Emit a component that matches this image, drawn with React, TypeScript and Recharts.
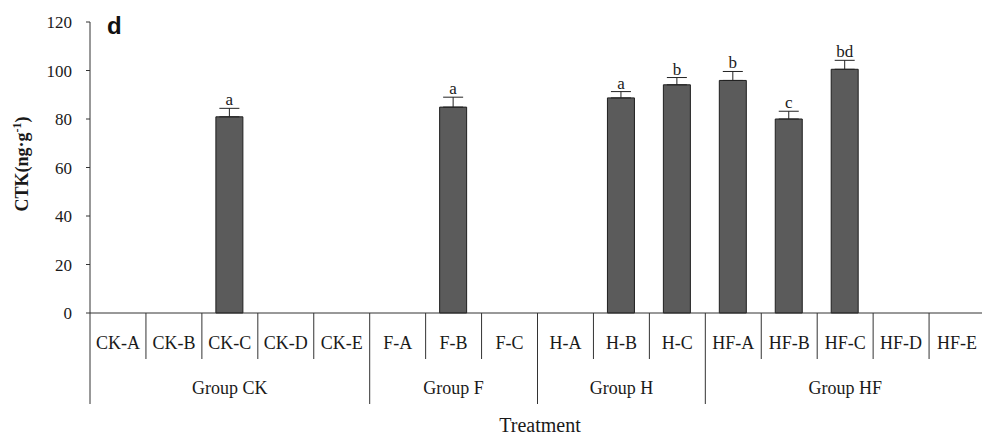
import { BarChart, Bar, XAxis, YAxis, ErrorBar, LabelList } from 'recharts'

const categories = ['CK-A', 'CK-B', 'CK-C', 'CK-D', 'CK-E', 'F-A', 'F-B', 'F-C', 'H-A', 'H-B', 'H-C', 'HF-A', 'HF-B', 'HF-C', 'HF-D', 'HF-E']
const values = [null, null, 80.9, null, null, null, 84.9, null, null, 88.7, 94.1, 95.9, 80, 100.5, null, null]
const errors = [null, null, 3.5, null, null, null, 4.1, null, null, 2.6, 3, 3.7, 3.2, 3.7, null, null]
const letters = ['', '', 'a', '', '', '', 'a', '', '', 'a', 'b', 'b', 'c', 'bd', '', '']
const groups = [
  { name: 'Group CK', start: 0, count: 5 },
  { name: 'Group F', start: 5, count: 3 },
  { name: 'Group H', start: 8, count: 3 },
  { name: 'Group HF', start: 11, count: 5 },
]
const yTicks = [0, 20, 40, 60, 80, 100, 120]

const data = categories.map((c, i) => ({
  name: c,
  value: values[i],
  err: errors[i] == null ? null : [0, errors[i]],
}))

const W = 982
const H = 438
const M = { top: 22, right: -3, bottom: 0, left: 0 }
const Y_W = 90
const BAND = (W - M.left - M.right - Y_W) / categories.length
const SERIF = 'Liberation Serif, Times New Roman, serif'

function CategoryTick(props: any) {
  const { x, y, payload, index } = props
  const left = x - BAND / 2
  const groupStart = groups.find((g) => g.start === index)
  const groupMid = groups.find((g) => g.start + (g.count - 1) / 2 === index)
  return (
    <g>
      <line x1={left} x2={left} y1={y} y2={groupStart ? y + 91 : y + 46} stroke="#333" strokeWidth={1} />
      <text x={x} y={y + 36} textAnchor="middle" style={{ fontFamily: SERIF, fontSize: 18 }} fill="#1a1a1a">
        {payload.value}
      </text>
      {groupMid && (
        <text x={x} y={y + 81} textAnchor="middle" style={{ fontFamily: SERIF, fontSize: 18 }} fill="#1a1a1a">
          {groupMid.name}
        </text>
      )}
    </g>
  )
}

function ValueTick(props: any) {
  const { x, y, payload } = props
  return (
    <text x={x} y={y} dy={6} textAnchor="end" style={{ fontFamily: SERIF, fontSize: 17 }} fill="#1a1a1a">
      {payload.value}
    </text>
  )
}

function LetterLabel(props: any) {
  const { x, width, y, height, value } = props
  const i = categories.indexOf(value)
  const e = errors[i]
  const v = values[i]
  if (i < 0 || !letters[i] || e == null || v == null) return null
  const errPx = (height / v) * e
  return (
    <text x={x + width / 2} y={y - errPx - 3} textAnchor="middle" style={{ fontFamily: SERIF, fontSize: 17 }} fill="#1a1a1a">
      {letters[i]}
    </text>
  )
}

export default function App() {
  return (
    <div style={{ position: 'absolute', left: 0, top: 0, width: W, height: H, background: '#fff' }}>
      <div
        style={{
          position: 'absolute',
          left: 107,
          top: 12,
          fontFamily: 'Liberation Sans, Arial, sans-serif',
          fontWeight: 'bold',
          fontSize: 24,
          color: '#111',
        }}
      >
        d
      </div>
      <BarChart width={W} height={H} data={data} margin={M}>
        <XAxis
          dataKey="name"
          interval={0}
          height={125}
          tickLine={false}
          tickSize={0}
          tickMargin={0}
          axisLine={{ stroke: '#333' }}
          tick={<CategoryTick />}
          label={{
            value: 'Treatment',
            content: () => (
              <text x={540} y={432} textAnchor="middle" style={{ fontFamily: SERIF, fontSize: 20 }} fill="#1a1a1a">
                Treatment
              </text>
            ),
          }}
        />
        <YAxis
          width={Y_W}
          domain={[0, 120]}
          ticks={yTicks}
          interval={0}
          tickSize={4}
          tickMargin={14}
          axisLine={{ stroke: '#333' }}
          tickLine={{ stroke: '#333' }}
          tick={<ValueTick />}
          label={{
            value: 'CTK',
            content: () => (
              <text
                x={28}
                y={164}
                transform="rotate(-90 28 164)"
                textAnchor="middle"
                style={{ fontFamily: SERIF, fontWeight: 'bold', fontSize: 18 }}
                fill="#1a1a1a"
              >
                CTK(ng·g
                <tspan dy={-7} style={{ fontSize: 12 }}>-1</tspan>
                <tspan dy={7}>)</tspan>
              </text>
            ),
          }}
        />
        <Bar dataKey="value" barSize={27} fill="#5b5b5b" stroke="#1f1f1f" strokeWidth={1} isAnimationActive={false}>
          <ErrorBar dataKey="err" direction="y" width={10} stroke="#222" strokeWidth={1} />
          <LabelList dataKey="name" content={<LetterLabel />} />
        </Bar>
      </BarChart>
    </div>
  )
}
